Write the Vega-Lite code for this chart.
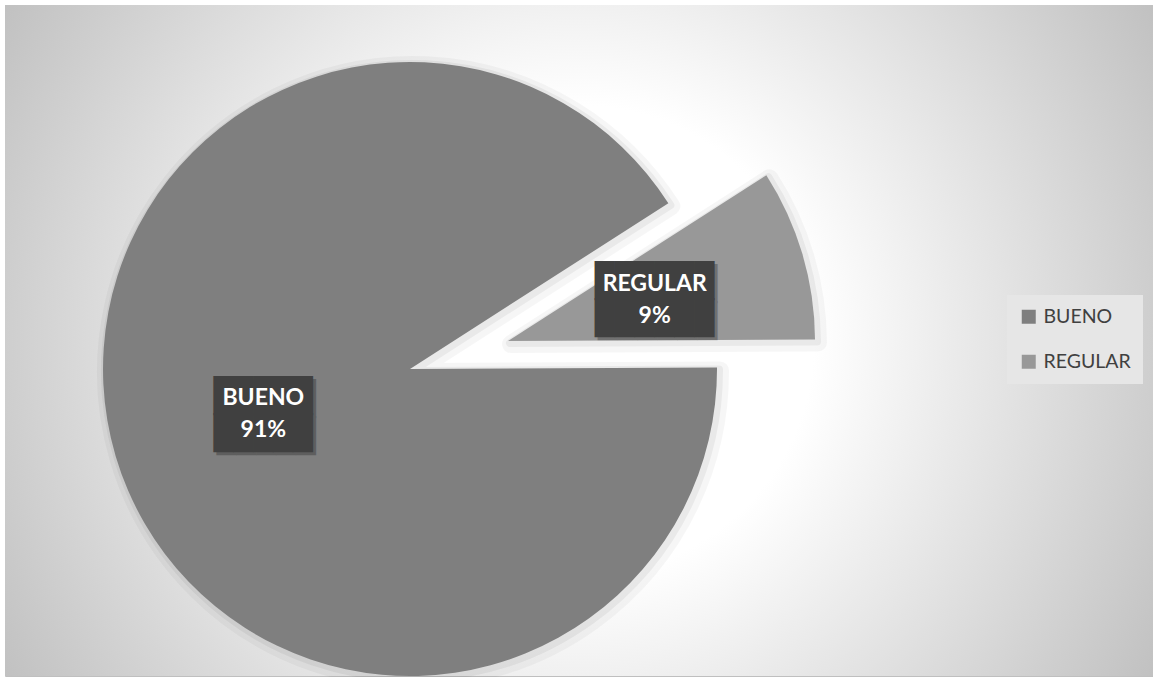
{
  "$schema": "https://vega.github.io/schema/vega-lite/v6.json",
  "width": 1148,
  "height": 671,
  "autosize": {"type": "none"},
  "padding": {"left": 5, "top": 5, "right": 0, "bottom": 1},
  "background": "#ffffff",
  "config": {
    "view": {"stroke": "#bfbfbf", "strokeWidth": 1}
  },
  "params": [
    {"name": "explodeX", "value": 98},
    {"name": "explodeY", "value": -28}
  ],
  "data": {
    "values": [
      {"categoria": "BUENO", "proporcion": 0.91},
      {"categoria": "REGULAR", "proporcion": 0.09}
    ]
  },
  "layer": [
    {
      "data": {"values": [{"elemento": "área del gráfico"}]},
      "mark": {
        "type": "rect",
        "fill": {
          "gradient": "radial",
          "x1": 0.5, "y1": 0.5, "r1": 0,
          "x2": 0.5, "y2": 0.5, "r2": 0.585,
          "stops": [
            {"offset": 0, "color": "#ffffff"},
            {"offset": 0.35, "color": "#ffffff"},
            {"offset": 1, "color": "#c0c0c0"}
          ]
        }
      },
      "encoding": {
        "x": {"value": 0},
        "x2": {"value": "width"},
        "y": {"value": 0},
        "y2": {"value": "height"}
      }
    },
    {
      "encoding": {
        "theta": {
          "field": "proporcion",
          "type": "quantitative",
          "stack": true,
          "scale": {"domain": [0, 1], "range": [1.5656, 7.8488]}
        },
        "order": {"field": "categoria", "type": "ordinal", "sort": "ascending"}
      },
      "layer": [
        {
          "mark": {
            "type": "arc",
            "radius": 307,
            "x": {"expr": "width * 0.3528 + 3 + (datum.categoria === 'REGULAR' ? explodeX : 0)"},
            "y": {"expr": "height * 0.5425 + 3 + (datum.categoria === 'REGULAR' ? explodeY : 0)"},
            "fill": "#000000",
            "fillOpacity": 0,
            "stroke": "#000000",
            "strokeOpacity": 0.035,
            "strokeWidth": 18,
            "strokeJoin": "round"
          },
          "encoding": {"detail": {"field": "categoria"}}
        },
        {
          "mark": {
            "type": "arc",
            "radius": 307,
            "x": {"expr": "width * 0.3528 + 2 + (datum.categoria === 'REGULAR' ? explodeX : 0)"},
            "y": {"expr": "height * 0.5425 + 2 + (datum.categoria === 'REGULAR' ? explodeY : 0)"},
            "fill": "#000000",
            "fillOpacity": 0,
            "stroke": "#000000",
            "strokeOpacity": 0.05,
            "strokeWidth": 8,
            "strokeJoin": "round"
          },
          "encoding": {"detail": {"field": "categoria"}}
        },
        {
          "mark": {
            "type": "arc",
            "radius": 307,
            "x": {"expr": "width * 0.3528 + (datum.categoria === 'REGULAR' ? explodeX : 0)"},
            "y": {"expr": "height * 0.5425 + (datum.categoria === 'REGULAR' ? explodeY : 0)"}
          },
          "encoding": {
            "color": {
              "field": "categoria",
              "type": "nominal",
              "scale": {"domain": ["BUENO", "REGULAR"], "range": ["#7f7f7f", "#989898"]},
              "legend": {
                "title": null,
                "orient": "none",
                "legendX": 1002,
                "legendY": 290,
                "symbolType": "square",
                "symbolSize": 196,
                "symbolStrokeWidth": 0,
                "labelFont": "Lato",
                "labelFontSize": 19.5,
                "labelColor": "#404040",
                "labelOffset": 5,
                "rowPadding": 24,
                "padding": 12,
                "fillColor": "#e6e6e6"
              }
            }
          }
        },
        {
          "mark": {
            "type": "text",
            "radius": 153,
            "x": {"expr": "width * 0.3528 + (datum.categoria === 'REGULAR' ? explodeX : 0)"},
            "y": {"expr": "height * 0.5425 + (datum.categoria === 'REGULAR' ? explodeY : 0)"},
            "font": "DejaVu Sans Mono",
            "fontSize": 33,
            "lineHeight": 36.6,
            "fill": "#000000",
            "opacity": 0.25,
            "dx": 3,
            "dy": -12.5,
            "align": "center",
            "baseline": "middle"
          },
          "encoding": {
            "detail": {"field": "categoria"},
            "text": {
              "condition": {"test": "datum.categoria === 'BUENO'", "value": ["█████", "█████"]},
              "value": ["██████", "██████"]
            }
          }
        },
        {
          "mark": {
            "type": "text",
            "radius": 153,
            "x": {"expr": "width * 0.3528 + (datum.categoria === 'REGULAR' ? explodeX : 0)"},
            "y": {"expr": "height * 0.5425 + (datum.categoria === 'REGULAR' ? explodeY : 0)"},
            "font": "DejaVu Sans Mono",
            "fontSize": 33,
            "lineHeight": 36.6,
            "fill": "#404040",
            "dy": -15.5,
            "align": "center",
            "baseline": "middle"
          },
          "encoding": {
            "detail": {"field": "categoria"},
            "text": {
              "condition": {"test": "datum.categoria === 'BUENO'", "value": ["█████", "█████"]},
              "value": ["██████", "██████"]
            }
          }
        },
        {
          "mark": {
            "type": "text",
            "radius": 153,
            "x": {"expr": "width * 0.3528 + (datum.categoria === 'REGULAR' ? explodeX : 0)"},
            "y": {"expr": "height * 0.5425 + (datum.categoria === 'REGULAR' ? explodeY : 0)"},
            "font": "Lato",
            "fontWeight": "bold",
            "fontSize": 23,
            "fill": "#ffffff",
            "dy": -14,
            "align": "center",
            "baseline": "middle"
          },
          "encoding": {
            "detail": {"field": "categoria"},
            "text": {"field": "categoria", "type": "nominal"}
          }
        },
        {
          "mark": {
            "type": "text",
            "radius": 153,
            "x": {"expr": "width * 0.3528 + (datum.categoria === 'REGULAR' ? explodeX : 0)"},
            "y": {"expr": "height * 0.5425 + (datum.categoria === 'REGULAR' ? explodeY : 0)"},
            "font": "Lato",
            "fontWeight": "bold",
            "fontSize": 23,
            "fill": "#ffffff",
            "dy": 18,
            "align": "center",
            "baseline": "middle"
          },
          "encoding": {
            "detail": {"field": "categoria"},
            "text": {"field": "proporcion", "type": "quantitative", "format": ".0%"}
          }
        }
      ]
    }
  ]
}
